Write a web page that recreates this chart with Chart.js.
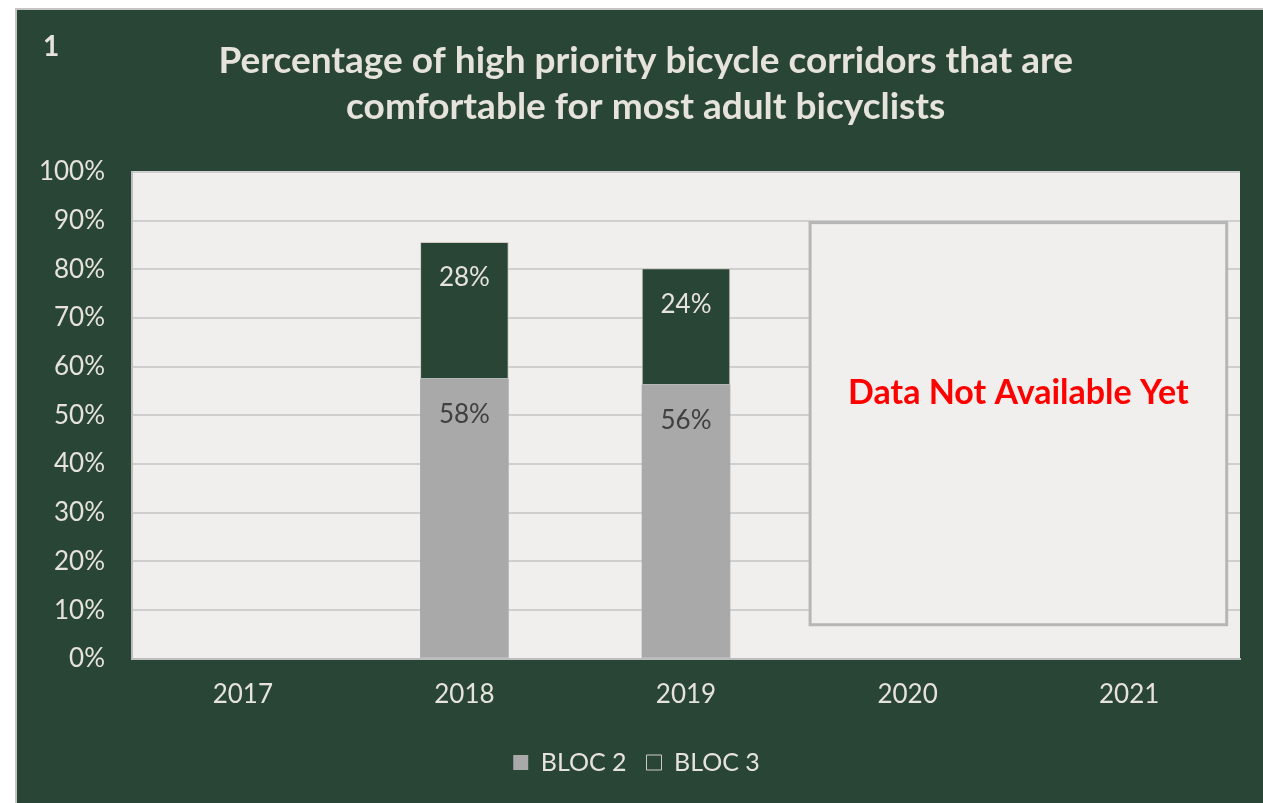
<!DOCTYPE html>
<html>
<head>
<meta charset="utf-8">
<script src="https://cdn.jsdelivr.net/npm/chart.js@4"></script>
<style>
  html, body { margin: 0; padding: 0; background: #ffffff; overflow: hidden; }
  #frame {
    position: absolute; left: 15px; top: 8px;
    width: 1246px; height: 793px;
    border-left: 2px solid #c4c4c4; border-top: 2px solid #c4c4c4;
    background: #294535;
  }
  #chart { display: block; }
</style>
</head>
<body>
<div id="frame"><canvas id="chart" width="1246" height="793"></canvas></div>
<script>
// Data
const years = ['2017', '2018', '2019', '2020', '2021'];
const bloc2 = [null, 57.6, 56.4, null, null];
const bloc3 = [null, 28.0, 23.8, null, null];
const titleLines = ['Percentage of high priority bicycle corridors that are', 'comfortable for most adult bicyclists'];
const noDataText = 'Data Not Available Yet';

// Colors
const green = '#294535';
const lightText = '#e6e2dc';
const plotBg = '#f0efed';
const gridGrey = '#cfcfcf';

const plotBackground = {
  id: 'plotBackground',
  beforeDraw: (chart) => {
    const { ctx, chartArea: a } = chart;
    ctx.save();
    ctx.fillStyle = plotBg;
    ctx.fillRect(a.left, a.top, a.right - a.left, a.bottom - a.top);
    ctx.fillStyle = lightText;
    ctx.font = 'bold 28px Lato';
    ctx.textAlign = 'center';
    ctx.textBaseline = 'middle';
    ctx.fillText('1', 34, 37);
    ctx.restore();
  }
};

const barLabels = {
  id: 'barLabels',
  afterDatasetsDraw: (chart) => {
    const { ctx } = chart;
    ctx.save();
    ctx.font = '26px Lato';
    ctx.textAlign = 'center';
    ctx.textBaseline = 'middle';
    chart.data.datasets.forEach((ds, i) => {
      chart.getDatasetMeta(i).data.forEach((bar, j) => {
        if (ds.data[j] == null) return;
        ctx.fillStyle = i === 0 ? '#404040' : lightText;
        ctx.fillText(Math.round(ds.data[j]) + '%', bar.x, bar.y + 36);
      });
    });
    ctx.restore();
  }
};

const noDataBox = {
  id: 'noDataBox',
  afterDatasetsDraw: (chart) => {
    const { ctx, scales: { x, y } } = chart;
    const left = x.getPixelForValue(2.56);
    const right = x.getPixelForValue(4.44);
    const top = y.getPixelForValue(89.6);
    const bottom = y.getPixelForValue(7);
    ctx.save();
    ctx.fillStyle = plotBg;
    ctx.fillRect(left, top, right - left, bottom - top);
    ctx.strokeStyle = '#b6b6b6';
    ctx.lineWidth = 3;
    ctx.strokeRect(left, top, right - left, bottom - top);
    ctx.fillStyle = '#ff0000';
    ctx.font = 'bold 34px Lato';
    ctx.textAlign = 'center';
    ctx.textBaseline = 'middle';
    ctx.fillText(noDataText, (left + right) / 2, y.getPixelForValue(54.5));
    ctx.restore();
  }
};

new Chart(document.getElementById('chart'), {
  type: 'bar',
  data: {
    labels: years,
    datasets: [
      {
        label: 'BLOC 2',
        data: bloc2,
        backgroundColor: '#a8a9a8',
        borderColor: '#a8a9a8',
        borderWidth: 0
      },
      {
        label: 'BLOC 3',
        data: bloc3,
        backgroundColor: green,
        borderColor: '#d2cac0',
        borderWidth: 1
      }
    ]
  },
  options: {
    responsive: false,
    animation: false,
    categoryPercentage: 1,
    barPercentage: 0.4,
    layout: { padding: { left: 16, right: 23, bottom: 18 } },
    plugins: {
      title: {
        display: true,
        // en space in front nudges the centred title a little to the right
        text: titleLines.map((t) => '\u2002' + t),
        color: lightText,
        font: { family: 'Lato', size: 37, weight: 'bold', lineHeight: 1.243 },
        padding: { top: 28, bottom: 42 }
      },
      legend: {
        position: 'bottom',
        labels: {
          color: lightText,
          font: { family: 'Lato', size: 25 },
          boxWidth: 15,
          boxHeight: 15,
          padding: 20
        }
      },
      tooltip: { enabled: false }
    },
    scales: {
      x: {
        stacked: true,
        grid: { display: false, drawTicks: false },
        border: { display: true, color: '#bdbdbd', width: 2 },
        ticks: { color: lightText, font: { family: 'Lato', size: 26 }, padding: 20 }
      },
      y: {
        stacked: true,
        min: 0,
        max: 100,
        afterFit: (scale) => { scale.width = 99; },
        grid: { color: gridGrey, lineWidth: 2, drawTicks: false },
        border: { display: true, color: '#bdbdbd', width: 2 },
        ticks: {
          stepSize: 10,
          color: lightText,
          font: { family: 'Lato', size: 26 },
          padding: 27,
          callback: (v) => v + '%'
        }
      }
    }
  },
  plugins: [plotBackground, barLabels, noDataBox]
});
</script>
</body>
</html>
